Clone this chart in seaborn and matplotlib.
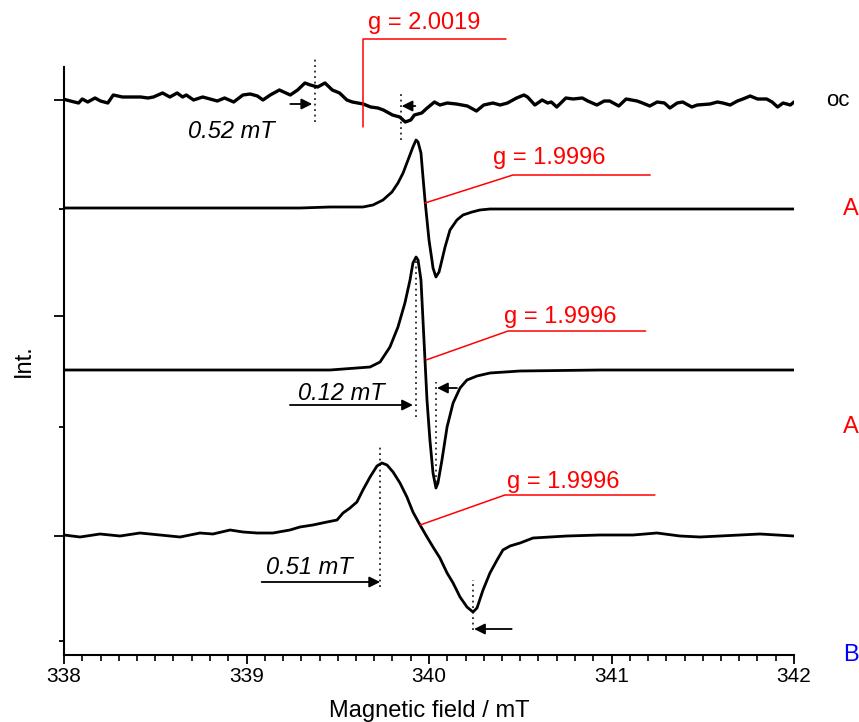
import numpy as np
import matplotlib
matplotlib.use("Agg")
import matplotlib.pyplot as plt
import seaborn as sns
from matplotlib.ticker import MultipleLocator

# ---- spectra (field in mT, intensity in arbitrary units) ----
oc_field = [338.00, 338.05, 338.08, 338.10, 338.13, 338.17, 338.20, 338.24, 338.27, 338.32,
            338.37, 338.42, 338.46, 338.49, 338.54, 338.58, 338.62, 338.65, 338.67, 338.71,
            338.76, 338.80, 338.84, 338.88, 338.93, 338.98, 339.02, 339.06, 339.09, 339.13,
            339.18, 339.24, 339.28, 339.32, 339.35, 339.39, 339.43, 339.47, 339.51, 339.55,
            339.58, 339.64, 339.68, 339.72, 339.75, 339.80, 339.84, 339.87, 339.90, 339.92,
            339.96, 339.99, 340.03, 340.06, 340.10, 340.15, 340.21, 340.26, 340.30, 340.35,
            340.39, 340.43, 340.48, 340.52, 340.54, 340.58, 340.62, 340.65, 340.67, 340.70,
            340.75, 340.79, 340.84, 340.87, 340.92, 340.96, 340.99, 341.04, 341.08, 341.14,
            341.17, 341.21, 341.25, 341.29, 341.32, 341.36, 341.39, 341.44, 341.47, 341.54,
            341.58, 341.61, 341.65, 341.69, 341.72, 341.76, 341.80, 341.85, 341.88, 341.91,
            341.94, 341.98, 342.00]
oc_int = [0.7, -1.7, -3, 1, -2, 2, -1, -3, 5, 3,
          3, 3, 2, 3, 7, 3, 7, 3, 5, 0,
          3, 1, -1, 2, -2, 5, 6, 4, 0, 5,
          10, 5, 10, 17, 15, 13, 17, 10, 7, 0,
          -2, -4, -7, -8, -10, -15, -17, -22, -20, -15,
          -13, -8, -2, -5, -3, -4, -6, -11, -5, -3,
          -5, -3, 2, 5, 3, -5, 0, -3, -2, -7,
          2, 1, 2, -1, -5, -1, -1, -6, 1, -1,
          -3, -6, -2, -3, -8, -3, -2, -7, -5, -4,
          -2, -3, -5, -1, 1, 4, 1, 1, -2, -7,
          -3, -5, -2]

a1_field = [338.000, 338.745, 339.293, 339.458, 339.638, 339.693, 339.748, 339.797, 339.830, 339.858,
            339.885, 339.912, 339.929, 339.940, 339.956, 339.967, 339.978, 339.989, 340.000, 340.016,
            340.022, 340.038, 340.055, 340.071, 340.088, 340.115, 340.153, 340.186, 340.236, 340.279,
            340.334, 340.937, 342.000]
a1_int = [1, 1, 1, 2, 2, 4, 9, 17, 26, 36,
          49, 62, 69, 67, 56, 32, 9, -11, -31, -51,
          -59, -68, -63, -51, -38, -21, -11, -6, -3, -1,
          0, 0, 0]

a2_field = [338.000, 338.745, 339.458, 339.677, 339.732, 339.786, 339.830, 339.868, 339.896, 339.912,
            339.929, 339.940, 339.956, 339.967, 339.978, 339.989, 340.005, 340.022, 340.038, 340.049,
            340.071, 340.099, 340.132, 340.170, 340.208, 340.263, 340.334, 340.499, 340.937, 342.000]
a2_int = [0, 0, 0, 3, 8, 23, 43, 67, 90, 107,
          113, 110, 90, 50, 10, -30, -70, -103, -118, -113,
          -90, -57, -33, -18, -10, -6, -3, -1, 0, 0]

b_field = [338.000, 338.088, 338.197, 338.307, 338.416, 338.526, 338.636, 338.745, 338.816, 338.910,
           338.981, 339.058, 339.145, 339.238, 339.293, 339.364, 339.441, 339.496, 339.529, 339.567,
           339.605, 339.638, 339.677, 339.715, 339.742, 339.770, 339.803, 339.841, 339.879, 339.912,
           339.951, 339.989, 340.022, 340.060, 340.099, 340.132, 340.170, 340.208, 340.241, 340.263,
           340.296, 340.334, 340.373, 340.405, 340.444, 340.499, 340.570, 340.756, 340.937, 341.118,
           341.249, 341.375, 341.485, 341.704, 341.814, 342.000]
b_int = [0, -2, 1, -1, 2, 0, -2, 2, 1, 5,
         3, 2, 2, 5, 8, 10, 13, 15, 22, 27,
         33, 45, 58, 69, 72, 70, 63, 52, 38, 23,
         10, -2, -12, -23, -38, -48, -62, -72, -77, -73,
         -55, -38, -25, -15, -11, -8, -3, -1, 0, 0,
         2, -1, -2, 0, 1, -1]

# vertical offsets of the stacked spectra
offsets = {"oc": 555, "A1": 446, "A2": 285, "B": 120}

sns.set_theme(style="ticks")
plt.rcParams['font.family'] = ['Liberation Sans', 'DejaVu Sans']
plt.rcParams['text.color'] = 'black'
plt.rcParams['axes.labelcolor'] = 'black'
plt.rcParams['xtick.color'] = 'black'
plt.rcParams['ytick.color'] = 'black'

fig = plt.figure(figsize=(8.59, 7.22), dpi=100)
ax = fig.add_axes([64 / 859, 67 / 722, 730 / 859, 588 / 722])

traces = [(oc_field, oc_int, offsets["oc"], 2.4),
          (a1_field, a1_int, offsets["A1"], 2.0),
          (a2_field, a2_int, offsets["A2"], 2.0),
          (b_field, b_int, offsets["B"], 2.0)]
for f, i, off, lw in traces:
    sns.lineplot(x=np.array(f), y=np.array(i) + off, ax=ax, color="black",
                 lw=lw, estimator=None, sort=False)

ax.set_xlim(338, 342)
ax.set_ylim(0, 588)
ax.set_xticks([338, 339, 340, 341, 342])
ax.xaxis.set_minor_locator(MultipleLocator(0.1))
ax.set_yticks([119, 339, 555])
ax.set_yticks([14, 228, 446], minor=True)
ax.set_yticklabels([])

for s in ["top", "right"]:
    ax.spines[s].set_visible(False)
for s in ["left", "bottom"]:
    ax.spines[s].set_linewidth(1.5)
    ax.spines[s].set_color("black")

ax.tick_params(axis="x", which="major", direction="out", length=6.5, width=1.3,
               labelsize=15, pad=2)
ax.tick_params(axis="x", which="minor", direction="out", length=4, width=1.2)
ax.tick_params(axis="y", which="major", direction="out", length=7.5, width=1.3)
ax.tick_params(axis="y", which="minor", direction="out", length=3.6, width=1.3)

ax.set_xlabel("Magnetic field / mT", fontsize=17, labelpad=10)
ax.set_ylabel("Int.", fontsize=17, labelpad=10)

dot = dict(color="black", lw=1.1, ls=(0, (1.2, 2.4)), clip_on=False)
red = dict(color="red", lw=1.1, clip_on=False)
arr = dict(arrowstyle="-|>", color="black", lw=1.3, mutation_scale=16, shrinkA=0, shrinkB=0)


def arrow(x0, x1, y):
    ax.annotate("", xy=(x1, y), xytext=(x0, y), arrowprops=arr, annotation_clip=False)


# oc annotations
ax.plot([339.375, 339.375], [533, 597], **dot)
ax.plot([339.845, 339.845], [515, 564], **dot)
arrow(339.24, 339.36, 551)
arrow(339.925, 339.85, 549)
ax.plot([339.64, 339.64, 340.42], [528, 616, 616], **red)
ax.text(339.665, 632, "g = 2.0019", color="red", fontsize=17, ha="left", va="center")
ax.text(338.915, 523, "0.52 mT", color="black", fontsize=17, style="italic", ha="center", va="center")

# A (upper)
ax.plot([339.978, 340.460, 341.212], [452, 480, 480], **red)
ax.text(340.351, 497, "g = 1.9996", color="red", fontsize=17, ha="left", va="center")

# A (lower)
ax.plot([339.984, 340.433, 341.187], [295, 324, 324], **red)
ax.text(340.411, 338, "g = 1.9996", color="red", fontsize=17, ha="left", va="center")
ax.plot([339.929, 339.929], [238, 395], **dot)
ax.plot([340.041, 340.041], [167, 273], **dot)
arrow(339.238, 339.912, 250)
arrow(340.153, 340.044, 267)
ax.text(339.521, 261, "0.12 mT", color="black", fontsize=17, style="italic", ha="center", va="center")

# B
ax.plot([339.951, 340.416, 341.238], [130, 160, 160], **red)
ax.text(340.428, 173, "g = 1.9996", color="red", fontsize=17, ha="left", va="center")
ax.plot([339.732, 339.732], [68, 210], **dot)
ax.plot([340.239, 340.239], [25, 75], **dot)
arrow(339.083, 339.732, 73)
arrow(340.453, 340.247, 26)
ax.text(339.342, 87, "0.51 mT", color="black", fontsize=17, style="italic", ha="center", va="center")

# sample labels on the right
ax.text(342.24, offsets["oc"], "oc", color="black", fontsize=16, ha="center", va="center", clip_on=False)
ax.text(342.31, 446, "A", color="red", fontsize=17, ha="center", va="center", clip_on=False)
ax.text(342.31, 228, "A", color="red", fontsize=17, ha="center", va="center", clip_on=False)
ax.text(342.31, 0, "B", color="blue", fontsize=17, ha="center", va="center", clip_on=False)

fig.savefig("out.png", dpi=100)
